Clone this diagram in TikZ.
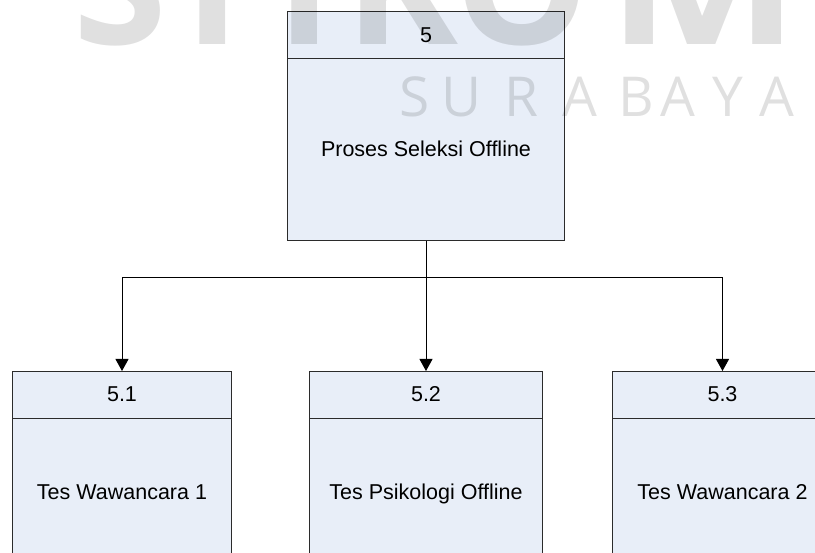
\documentclass[tikz,border=0pt]{standalone}
\usepackage{fontspec}
\setmainfont{Liberation Sans}
\newfontfamily\wmfont{Open Sans}
\usetikzlibrary{arrows.meta}
\definecolor{boxfill}{HTML}{E8EEF8}
\definecolor{boxline}{HTML}{2B2B2B}
\begin{document}
\begin{tikzpicture}[x=1pt,y=-1pt,
  procbox/.style={draw=boxline, line width=1pt, fill=boxfill, rectangle,
    anchor=north west, inner sep=0pt},
  divider/.style={draw=boxline, line width=1pt},
  boxtext/.style={font=\fontsize{21.5}{21.5}\selectfont, inner sep=0pt,
    text=black, anchor=base},
  trunk/.style={draw=black, line width=1pt},
  link/.style={draw=black, line width=1pt, -{Triangle[length=12pt,width=13pt]}},
  wmbig/.style={font=\wmfont\bfseries\fontsize{170}{170}\selectfont,
    text=black, text opacity=0.12, inner sep=0pt, anchor=base},
  wmsmall/.style={font=\wmfont\fontsize{55}{55}\selectfont,
    text=black, text opacity=0.12, inner sep=0pt, anchor=base}
]
\useasboundingbox (0,0) rectangle (815,553);
\clip (0,0) rectangle (815,553);

% top-level process
\node[procbox, minimum width=277pt, minimum height=229pt] (p5) at (287,11) {};
\draw[divider] ([yshift=-48pt]p5.north west) -- ([yshift=-48pt]p5.north east);
\node[boxtext] (p5num) at ([yshift=-32pt]p5.north) {5};
\node[boxtext] (p5name) at ([yshift=-146pt]p5.north) {Proses Seleksi Offline};

% sub-processes
\node[procbox, minimum width=219pt, minimum height=200pt] (p51) at (12,371) {};
\node[procbox, minimum width=233pt, minimum height=200pt] (p52) at (309,371) {};
\node[procbox, minimum width=220pt, minimum height=200pt] (p53) at (612,371) {};
\foreach \b in {p51,p52,p53}{
  \draw[divider] ([yshift=-48pt]\b.north west) -- ([yshift=-48pt]\b.north east);
}
\node[boxtext] (p51num) at ([yshift=-31pt]p51.north) {5.1};
\node[boxtext] (p52num) at ([yshift=-31pt]p52.north) {5.2};
\node[boxtext] (p53num) at ([yshift=-31pt]p53.north) {5.3};
\node[boxtext] (p51name) at ([yshift=-129pt]p51.north) {Tes Wawancara 1};
\node[boxtext] (p52name) at ([yshift=-129pt]p52.north) {Tes Psikologi Offline};
\node[boxtext] (p53name) at ([yshift=-129pt]p53.north) {Tes Wawancara 2};

% decomposition connectors
\coordinate (split) at ([yshift=-37pt]p5.south);
\draw[trunk] (p5.south) -- (split);
\draw[link] (split) -| (p51.north);
\draw[link] (split) -- (p52.north);
\draw[link] (split) -| (p53.north);

% watermark
\node[wmbig] (wmS) at (120,45) {S};
\node[wmbig] (wmT) at (213,45) {T};
\node[wmbig] (wmI) at (305,45) {I};
\node[wmbig] (wmK) at (402,45) {K};
\node[wmbig] (wmO) at (522,45) {O};
\node[wmbig] (wmM) at (704,45) {\scalebox{1.2}[1]{M}};
\foreach \ch/\cx in {S/415,U/462,R/521,A/580,B/636,A/678,Y/728,A/777}{
  \node[wmsmall] at (\cx,117) {\ch};
}
\end{tikzpicture}
\end{document}
